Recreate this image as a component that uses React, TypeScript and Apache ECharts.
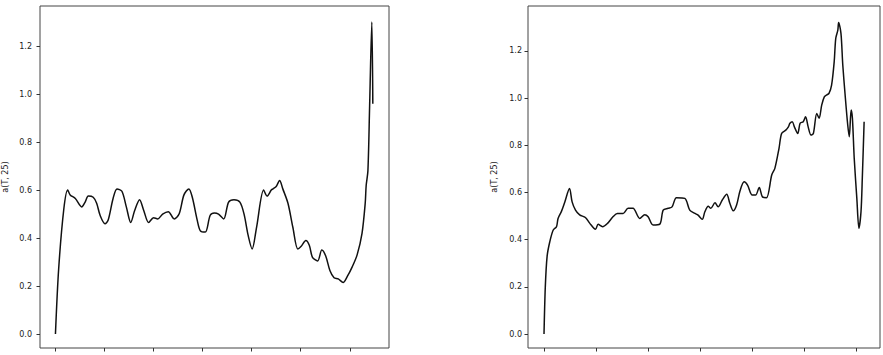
import React, { useEffect, useRef } from "react";
import * as echarts from "echarts";

const leftX = [0, 13, 34, 50, 60, 81, 107, 121, 134, 154, 168, 182, 202, 215, 235, 251, 271, 289, 307, 323, 343, 360, 380, 400, 417, 437, 460, 484, 504, 524, 544, 558, 578, 591, 611, 631, 648, 665, 686, 706, 728, 752, 769, 786, 802, 820, 849, 863, 880, 887, 900, 914, 927, 948, 968, 988, 1001, 1021, 1035, 1048, 1069, 1086, 1102, 1119, 1136, 1153, 1173, 1190, 1210, 1230, 1250, 1263, 1267, 1274, 1281, 1290, 1294];
const leftY = [0.0, 0.27, 0.52, 0.6, 0.58, 0.565, 0.53, 0.55, 0.575, 0.57, 0.545, 0.495, 0.46, 0.475, 0.565, 0.605, 0.595, 0.53, 0.465, 0.515, 0.56, 0.515, 0.465, 0.485, 0.48, 0.5, 0.51, 0.48, 0.5, 0.58, 0.605, 0.57, 0.475, 0.43, 0.425, 0.495, 0.505, 0.5, 0.48, 0.55, 0.56, 0.55, 0.5, 0.41, 0.355, 0.445, 0.6, 0.575, 0.6, 0.605, 0.615, 0.64, 0.605, 0.545, 0.445, 0.355, 0.365, 0.39, 0.37, 0.32, 0.305, 0.35, 0.325, 0.265, 0.235, 0.23, 0.215, 0.24, 0.28, 0.33, 0.42, 0.545, 0.62, 0.68, 0.95, 1.3, 0.96];

const rightX = [0, 5, 12, 22, 35, 48, 54, 67, 80, 98, 108, 121, 137, 159, 176, 198, 208, 225, 244, 265, 282, 304, 323, 342, 368, 387, 400, 419, 445, 458, 477, 492, 509, 541, 560, 580, 592, 608, 618, 631, 641, 657, 669, 685, 702, 714, 727, 740, 753, 769, 782, 800, 813, 827, 839, 855, 875, 887, 903, 913, 929, 939, 945, 954, 962, 975, 984, 996, 1005, 1015, 1026, 1035, 1048, 1057, 1067, 1077, 1086, 1095, 1105, 1115, 1121, 1129, 1132, 1141, 1148, 1157, 1167, 1173, 1180, 1185, 1192, 1202, 1210, 1218, 1223, 1230];
const rightY = [0.0, 0.2, 0.33, 0.39, 0.44, 0.455, 0.49, 0.52, 0.56, 0.617, 0.56, 0.525, 0.505, 0.494, 0.469, 0.444, 0.465, 0.455, 0.469, 0.497, 0.511, 0.511, 0.533, 0.533, 0.49, 0.506, 0.497, 0.462, 0.466, 0.525, 0.533, 0.539, 0.578, 0.575, 0.525, 0.511, 0.504, 0.486, 0.518, 0.542, 0.533, 0.556, 0.539, 0.568, 0.592, 0.554, 0.522, 0.547, 0.606, 0.645, 0.631, 0.589, 0.589, 0.621, 0.582, 0.578, 0.674, 0.702, 0.787, 0.85, 0.864, 0.878, 0.893, 0.9, 0.878, 0.85, 0.893, 0.9, 0.921, 0.878, 0.843, 0.85, 0.935, 0.914, 0.97, 1.005, 1.013, 1.02, 1.055, 1.154, 1.253, 1.288, 1.32, 1.274, 1.14, 1.013, 0.886, 0.836, 0.949, 0.914, 0.744, 0.575, 0.448, 0.518, 0.66, 0.9];

const xTicks = [0, 200, 400, 600, 800, 1000, 1200];
const yTicks = [0, 0.2, 0.4, 0.6, 0.8, 1.0, 1.2];
const yLabel = "a(T, 25)";

export default function App() {
  const ref = useRef<HTMLDivElement>(null);
  useEffect(() => {
    if (!ref.current) return;
    const chart = echarts.init(ref.current, null, { renderer: "svg" });
    const axisColor = "#333";
    const mkX = (idx: number, min: number, max: number) => ({
      type: "value",
      gridIndex: idx,
      min,
      max,
      axisLine: { show: false, onZero: false },
      splitLine: { show: false },
      axisTick: {
        show: true,
        inside: false,
        length: 3.5,
        customValues: xTicks,
        lineStyle: { color: axisColor },
      },
      axisLabel: { show: false, customValues: xTicks },
    });
    const mkY = (idx: number, min: number, max: number, margin: number, gap: number) => ({
      type: "value",
      gridIndex: idx,
      min,
      max,
      name: yLabel,
      nameLocation: "middle",
      nameGap: gap,
      nameTextStyle: { fontFamily: "DejaVu Sans", fontSize: 8, color: "#222" },
      axisLine: { show: false, onZero: false },
      splitLine: { show: false },
      axisTick: {
        show: true,
        inside: false,
        length: 3.5,
        customValues: yTicks,
        lineStyle: { color: axisColor },
      },
      axisLabel: {
        show: true,
        customValues: yTicks,
        margin,
        fontFamily: "DejaVu Sans",
        fontSize: 8,
        color: "#222",
        formatter: (v: number) => v.toFixed(1),
      },
    });
    const lineStyle = { color: "#111", width: 1.5 };
    chart.setOption({
      animation: false,
      grid: [
        { left: 36, top: 6, width: 353, height: 342, show: true, borderColor: "#444", borderWidth: 1, backgroundColor: "#fff" },
        { left: 528, top: 6, width: 352, height: 342, show: true, borderColor: "#444", borderWidth: 1, backgroundColor: "#fff" },
      ],
      xAxis: [mkX(0, -63, 1360), mkX(1, -61.5, 1291)],
      yAxis: [mkY(0, -0.058, 1.367, 8, 31), mkY(1, -0.059, 1.39, 6, 30)],
      series: [
        {
          type: "line",
          xAxisIndex: 0,
          yAxisIndex: 0,
          data: leftX.map((x, i) => [x, leftY[i]]),
          showSymbol: false,
          smooth: 0.3,
          lineStyle,
        },
        {
          type: "line",
          xAxisIndex: 1,
          yAxisIndex: 1,
          data: rightX.map((x, i) => [x, rightY[i]]),
          showSymbol: false,
          smooth: 0.3,
          lineStyle,
        },
      ],
    });
    return () => chart.dispose();
  }, []);
  return (
    <div
      ref={ref}
      style={{ position: "fixed", left: 0, top: 0, width: 883, height: 355, background: "#fff" }}
    />
  );
}
